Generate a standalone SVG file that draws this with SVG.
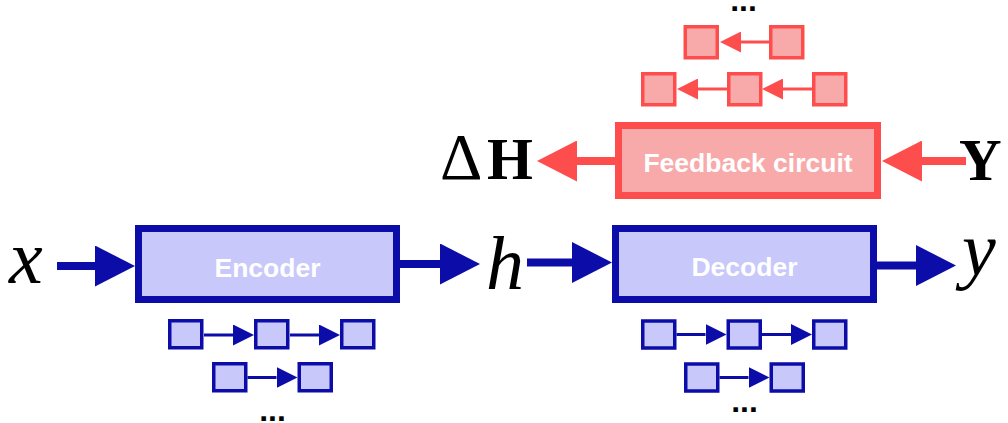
<svg xmlns="http://www.w3.org/2000/svg" width="1008" height="423" viewBox="0 0 1008 423">
  <style>
    .blk-b { fill: #c8c8fa; stroke: #0c0ca8; stroke-width: 7; }
    .blk-r { fill: #f8aaaa; stroke: #fe4d4d; stroke-width: 7; }
    .sq-b { fill: #c8c8fa; stroke: #0c0ca8; stroke-width: 3.5; }
    .sq-r { fill: #f8aaaa; stroke: #fe4d4d; stroke-width: 3.5; }
    .lbl { font-family: "Liberation Sans", Arial, sans-serif; font-weight: bold; font-size: 26.5px; fill: #ffffff; text-anchor: middle; }
    .math { font-family: "Liberation Serif", "Times New Roman", serif; font-style: italic; font-size: 76px; fill: #000000; }
    .bold { font-family: "Liberation Serif", "Times New Roman", serif; font-weight: bold; font-size: 59px; fill: #000000; }
    .delta { font-weight: normal; font-size: 66px; }
    .dots { font-family: "Liberation Sans", Arial, sans-serif; font-weight: bold; font-size: 32px; fill: #000000; text-anchor: middle; }
    .w-b { fill: none; stroke: #0c0ca8; stroke-width: 8; }
    .w-r { fill: none; stroke: #fe4d4d; stroke-width: 8; }
    .t-b { fill: none; stroke: #0c0ca8; stroke-width: 3; }
    .t-r { fill: none; stroke: #fe4d4d; stroke-width: 3; }
  </style>
  <defs>
    <marker id="hb" markerUnits="userSpaceOnUse" markerWidth="40" markerHeight="41" viewBox="0 0 40 41" refX="0" refY="20.5" orient="auto">
      <path d="M0,0L40,20.5L0,41z" fill="#0c0ca8"/>
    </marker>
    <marker id="hr" markerUnits="userSpaceOnUse" markerWidth="40" markerHeight="41" viewBox="0 0 40 41" refX="0" refY="20.5" orient="auto">
      <path d="M0,0L40,20.5L0,41z" fill="#fe4d4d"/>
    </marker>
    <marker id="sb" markerUnits="userSpaceOnUse" markerWidth="21" markerHeight="21" viewBox="0 0 21 21" refX="0" refY="10.5" orient="auto">
      <path d="M0,0L21,10.5L0,21z" fill="#0c0ca8"/>
    </marker>
    <marker id="sr" markerUnits="userSpaceOnUse" markerWidth="21" markerHeight="21" viewBox="0 0 21 21" refX="0" refY="10.5" orient="auto">
      <path d="M0,0L21,10.5L0,21z" fill="#fe4d4d"/>
    </marker>
  </defs>

  <!-- connectors -->
  <g id="connectors">
    <path class="w-b" d="M57,266H95" marker-end="url(#hb)"/>
    <path class="w-b" d="M400,264H440" marker-end="url(#hb)"/>
    <path class="w-b" d="M527,262.5H572" marker-end="url(#hb)"/>
    <path class="w-b" d="M877,265.5H916" marker-end="url(#hb)"/>
    <path class="w-r" d="M615,161H577" marker-end="url(#hr)"/>
    <path class="w-r" d="M966,161H922" marker-end="url(#hr)"/>
    <!-- encoder chains -->
    <path class="t-b" d="M204,335H233" marker-end="url(#sb)"/>
    <path class="t-b" d="M290,335H319" marker-end="url(#sb)"/>
    <path class="t-b" d="M247.5,377.5H276.5" marker-end="url(#sb)"/>
    <!-- decoder chains -->
    <path class="t-b" d="M676.5,334.5H705.5" marker-end="url(#sb)"/>
    <path class="t-b" d="M762,334.5H791" marker-end="url(#sb)"/>
    <path class="t-b" d="M719.5,377.5H748.5" marker-end="url(#sb)"/>
    <!-- feedback chains -->
    <path class="t-r" d="M769,42H741" marker-end="url(#sr)"/>
    <path class="t-r" d="M727,89H698" marker-end="url(#sr)"/>
    <path class="t-r" d="M812,89H783" marker-end="url(#sr)"/>
  </g>

  <!-- main blocks -->
  <g id="encoder">
    <rect class="blk-b" x="138.5" y="228.5" width="258" height="71"/>
    <text class="lbl" x="267.5" y="277">Encoder</text>
  </g>
  <g id="decoder">
    <rect class="blk-b" x="615.5" y="228.5" width="258" height="71"/>
    <text class="lbl" x="744.5" y="276">Decoder</text>
  </g>
  <g id="feedback">
    <rect class="blk-r" x="618.5" y="125.5" width="259" height="70"/>
    <text class="lbl" x="748" y="172">Feedback circuit</text>
  </g>

  <!-- variables -->
  <g id="var-x"><text class="math" x="9" y="283">x</text></g>
  <g id="var-h"><text class="math" x="486" y="289">h</text></g>
  <g id="var-y"><text class="math" x="962" y="275">y</text></g>
  <g id="var-dH"><text class="bold" x="440" y="179"><tspan class="delta">Δ</tspan><tspan x="487">H</tspan></text></g>
  <g id="var-Y"><text class="bold" x="959" y="180">Y</text></g>

  <!-- encoder unrolled steps -->
  <g id="enc-s1"><rect class="sq-b" x="169.75" y="320.75" width="32" height="27"/></g>
  <g id="enc-s2"><rect class="sq-b" x="255.75" y="320.75" width="32" height="27"/></g>
  <g id="enc-s3"><rect class="sq-b" x="341.75" y="320.75" width="32" height="27"/></g>
  <g id="enc-t1"><rect class="sq-b" x="213.75" y="363.75" width="32" height="27"/></g>
  <g id="enc-t2"><rect class="sq-b" x="299.25" y="363.75" width="32" height="27"/></g>
  <g id="enc-more"><text class="dots" x="272.5" y="421">...</text></g>

  <!-- decoder unrolled steps -->
  <g id="dec-s1"><rect class="sq-b" x="642.75" y="321" width="32" height="27"/></g>
  <g id="dec-s2"><rect class="sq-b" x="728.25" y="321" width="32" height="27"/></g>
  <g id="dec-s3"><rect class="sq-b" x="813.75" y="321" width="32" height="27"/></g>
  <g id="dec-t1"><rect class="sq-b" x="685.75" y="364" width="32" height="27"/></g>
  <g id="dec-t2"><rect class="sq-b" x="771.25" y="364" width="32" height="27"/></g>
  <g id="dec-more"><text class="dots" x="744.5" y="412">...</text></g>

  <!-- feedback unrolled steps -->
  <g id="fb-t1"><rect class="sq-r" x="685.25" y="26.75" width="32" height="31"/></g>
  <g id="fb-t2"><rect class="sq-r" x="770.75" y="26.75" width="32" height="31"/></g>
  <g id="fb-s1"><rect class="sq-r" x="642.75" y="73.75" width="32" height="31"/></g>
  <g id="fb-s2"><rect class="sq-r" x="728.75" y="73.75" width="32" height="31"/></g>
  <g id="fb-s3"><rect class="sq-r" x="813.75" y="73.75" width="32" height="31"/></g>
  <g id="fb-more"><text class="dots" x="743.5" y="11">...</text></g>
</svg>
